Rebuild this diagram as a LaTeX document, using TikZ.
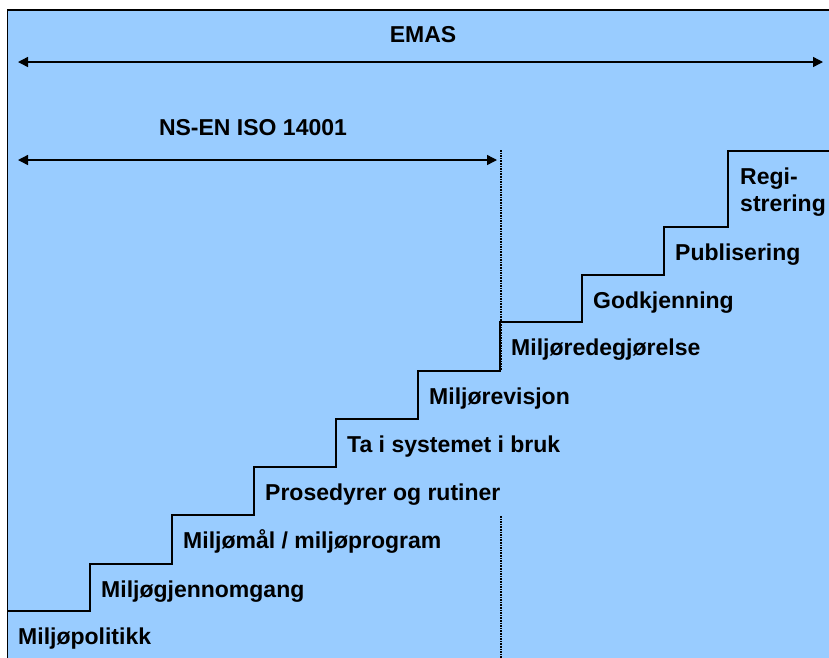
\documentclass[tikz,border=0pt]{standalone}
\usepackage{fontspec}
\setmainfont{Liberation Sans}
\usetikzlibrary{arrows.meta}
\definecolor{bgblue}{HTML}{99CCFF}
\tikzset{
  steplabel/.style={anchor=base west, inner sep=0pt, font=\fontsize{23}{27}\selectfont\bfseries},
  titlelabel/.style={inner sep=0pt, font=\fontsize{23}{27}\selectfont\bfseries},
  rangearrow/.style={line width=1.4pt, {Triangle[length=10pt,width=10pt]}-{Triangle[length=10pt,width=10pt]}},
  stairline/.style={line width=1.6pt, line join=miter},
  borderline/.style={line width=1.6pt},
  limitline/.style={line width=1.3pt, dash pattern=on 1.6pt off 1pt}
}
\begin{document}
\begin{tikzpicture}[x=1pt,y=-1pt]
\useasboundingbox (0,0) rectangle (829,657);
\clip (0,0) rectangle (829,657);
\fill[bgblue] (7.5,10) rectangle (835,665);
\draw[borderline] (835,10) -- (7.5,10) -- (7.5,665);

% titles and range arrows
\node[titlelabel] (emas) at (423,35) {EMAS};
\coordinate (emasL) at (18,62);
\coordinate (emasR) at (823,62);
\draw[rangearrow] (emasL) -- (emasR);

\node[titlelabel] (iso) at (253,128) {NS-EN ISO 14001};
\coordinate (isoL) at (18,160);
\coordinate (isoR) at (497,160);
\draw[rangearrow] (isoL) -- (isoR);

% limit of ISO 14001 (hidden behind the step labels)
\coordinate (limT) at (501,150);
\coordinate (limM1) at (501,371);
\coordinate (limM2) at (501,516);
\coordinate (limB) at (501,665);
\draw[limitline] (limT) -- (limM1);
\draw[limitline] (limM2) -- (limB);

% stairs
\draw[stairline] (7.5,611) -- (90,611) -- (90,564) -- (172,564) -- (172,515)
  -- (254,515) -- (254,467) -- (336,467) -- (336,419) -- (418,419) -- (418,371)
  -- (500,371) -- (500,322) -- (582,322) -- (582,275) -- (664,275) -- (664,227)
  -- (728,227) -- (728,151) -- (835,151);

% step labels
\node[steplabel] (s1) at (18,644) {Miljøpolitikk};
\node[steplabel] (s2) at (101,597) {Miljøgjennomgang};
\node[steplabel] (s3) at (183,548) {Miljømål / miljøprogram};
\node[steplabel] (s4) at (265,500) {Prosedyrer og rutiner};
\node[steplabel] (s5) at (347,452) {Ta i systemet i bruk};
\node[steplabel] (s6) at (429,404) {Miljørevisjon};
\node[steplabel] (s7) at (511,355) {Miljøredegjørelse};
\node[steplabel] (s8) at (593,308) {Godkjenning};
\node[steplabel] (s9) at (675,260) {Publisering};
\node[steplabel, align=left] (s10) at (740,211) {Regi-\\strering};
\end{tikzpicture}
\end{document}
